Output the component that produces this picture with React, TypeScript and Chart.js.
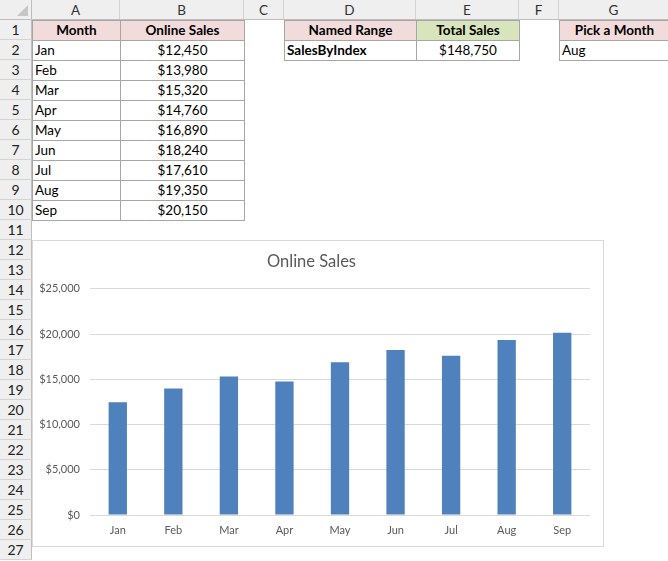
import { useEffect, useRef } from "react";
import Chart from "chart.js/auto";

const months = ["Jan", "Feb", "Mar", "Apr", "May", "Jun", "Jul", "Aug", "Sep"];
const onlineSales = [12450, 13980, 15320, 14760, 16890, 18240, 17610, 19350, 20150];
const yTicks = [0, 5000, 10000, 15000, 20000, 25000];
const colLetters = ["A", "B", "C", "D", "E", "F", "G"];
const colWidths = [88, 124, 40, 132, 103, 40, 110];
const rowCount = 27;

const FONT = "Lato, 'Open Sans', sans-serif";
const ROW_H = 20;
const HDR_W = 32;

const money = (v: number) => "$" + v.toLocaleString("en-US");

const colX = (i: number) => HDR_W + colWidths.slice(0, i).reduce((a, b) => a + b, 0);
const rowY = (r: number) => r * ROW_H; // row 1 starts at 20

type CellProps = {
  col: number;
  row: number;
  text?: string;
  bold?: boolean;
  align?: "left" | "center" | "right";
  fill?: string;
};

function Cell({ col, row, text = "", bold, align = "left", fill = "#fff" }: CellProps) {
  return (
    <div
      style={{
        position: "absolute",
        left: colX(col),
        top: rowY(row),
        width: colWidths[col] + 1,
        height: ROW_H + 1,
        boxSizing: "border-box",
        border: "1px solid #a6a6a6",
        background: fill,
        fontWeight: bold ? 700 : 400,
        textAlign: align,
        lineHeight: "19px",
        paddingLeft: align === "left" ? 2 : 0,
        whiteSpace: "nowrap",
        overflow: "hidden",
      }}
    >
      {text}
    </div>
  );
}

function SalesChart() {
  const chartRef = useRef<HTMLCanvasElement>(null);

  useEffect(() => {
    if (!chartRef.current) return;
    const chart = new Chart(chartRef.current, {
      type: "bar",
      data: {
        labels: months,
        datasets: [
          {
            label: "Online Sales",
            data: onlineSales,
            backgroundColor: "#4F81BD",
            borderWidth: 0,
            barPercentage: 0.33,
            categoryPercentage: 1,
          },
        ],
      },
      options: {
        animation: false,
        responsive: true,
        maintainAspectRatio: false,
        layout: { padding: { left: 0, right: 13, top: 0, bottom: 0 } },
        plugins: {
          legend: { display: false },
          tooltip: { enabled: false },
          title: {
            display: true,
            text: "Online Sales",
            color: "#595959",
            font: { family: FONT, size: 16.5, weight: "normal" },
            padding: { top: 11, bottom: 17 },
          },
        },
        scales: {
          x: {
            grid: { display: false, drawTicks: false },
            border: { display: false },
            ticks: { color: "#595959", font: { family: FONT, size: 11 }, padding: 9 },
            afterFit: (s) => {
              s.height = 31;
            },
          },
          y: {
            min: yTicks[0],
            max: yTicks[yTicks.length - 1],
            afterBuildTicks: (s) => {
              s.ticks = yTicks.map((v) => ({ value: v }));
            },
            grid: { color: "#d9d9d9", lineWidth: 1, drawTicks: false },
            border: { display: false },
            ticks: {
              color: "#595959",
              font: { family: FONT, size: 11 },
              padding: 10,
              callback: (v) => money(Number(v)),
            },
            afterFit: (s) => {
              s.width = 57;
            },
          },
        },
      },
    });
    return () => chart.destroy();
  }, []);

  return (
    <div
      style={{
        position: "absolute",
        left: HDR_W,
        top: 240,
        width: 572,
        height: 307,
        boxSizing: "border-box",
        border: "1px solid #d9d9d9",
        background: "#fff",
      }}
    >
      <div style={{ position: "relative", width: 570, height: 305 }}>
        <canvas ref={chartRef} role="img" aria-label="Column chart of online sales by month, Jan to Sep." />
      </div>
    </div>
  );
}

export default function App() {
  const total = onlineSales.reduce((a, b) => a + b, 0);
  return (
    <div
      style={{
        position: "fixed",
        left: 0,
        top: 0,
        width: 668,
        height: 561,
        overflow: "hidden",
        background: "#fff",
        fontFamily: FONT,
        fontSize: 13.5,
        color: "#000",
      }}
    >
      {/* column headers */}
      <div style={{ position: "absolute", left: 0, top: 0, width: 668, height: ROW_H, background: "#efefef", borderBottom: "1px solid #bdbdbd", boxSizing: "border-box" }} />
      {colLetters.map((c, i) => (
        <div
          key={c}
          style={{
            position: "absolute",
            left: colX(i),
            top: 0,
            width: colWidths[i],
            height: ROW_H - 1,
            borderRight: "1px solid #d4d4d4",
            boxSizing: "border-box",
            textAlign: "center",
            lineHeight: "20px",
            color: "#333",
          }}
        >
          {c}
        </div>
      ))}
      {/* corner */}
      <div style={{ position: "absolute", left: 0, top: 0, width: HDR_W, height: ROW_H, background: "#efefef", borderRight: "1px solid #bdbdbd", borderBottom: "1px solid #bdbdbd", boxSizing: "border-box" }}>
        <div style={{ position: "absolute", right: 3, bottom: 3, width: 0, height: 0, borderLeft: "11px solid transparent", borderBottom: "11px solid #c6c6c6" }} />
      </div>
      {/* row headers */}
      {Array.from({ length: rowCount }, (_, i) => i + 1).map((r) => (
        <div
          key={r}
          style={{
            position: "absolute",
            left: 0,
            top: rowY(r),
            width: HDR_W,
            height: ROW_H,
            background: "#efefef",
            borderRight: "1px solid #bdbdbd",
            borderBottom: "1px solid #d4d4d4",
            boxSizing: "border-box",
            textAlign: "center",
            lineHeight: "20px",
            color: "#222",
            fontSize: 14,
          }}
        >
          {r}
        </div>
      ))}

      {/* data table */}
      <Cell col={0} row={1} text="Month" bold align="center" fill="#F2DCDB" />
      <Cell col={1} row={1} text="Online Sales" bold align="center" fill="#F2DCDB" />
      {months.map((m, i) => (
        <Cell key={m + "a"} col={0} row={i + 2} text={m} />
      ))}
      {onlineSales.map((v, i) => (
        <Cell key={"b" + i} col={1} row={i + 2} text={money(v)} align="center" />
      ))}

      <Cell col={3} row={1} text="Named Range" bold align="center" fill="#F2DCDB" />
      <Cell col={4} row={1} text="Total Sales" bold align="center" fill="#D8E4BC" />
      <Cell col={3} row={2} text="SalesByIndex" bold />
      <Cell col={4} row={2} text={money(total)} align="center" />

      <Cell col={6} row={1} text="Pick a Month" bold align="center" fill="#F2DCDB" />
      <Cell col={6} row={2} text={months[7]} />

      <SalesChart />
    </div>
  );
}
